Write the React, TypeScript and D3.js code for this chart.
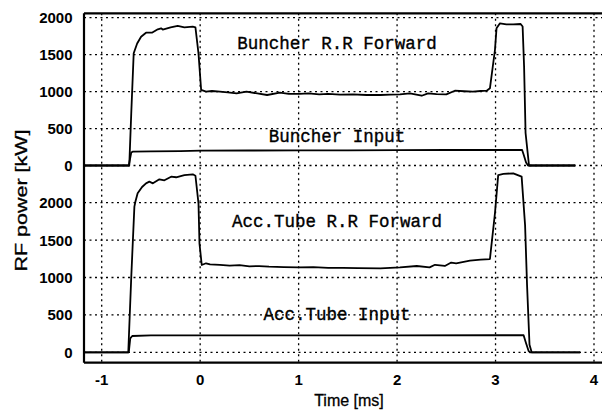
import * as d3 from 'd3';

// tiempo en ms y potencia en kW
const bunFwdT = [-1.18, -0.72, -0.70, -0.675, -0.64, -0.60, -0.55, -0.49, -0.43, -0.397, -0.38, -0.30, -0.228, -0.16, -0.075, -0.048, -0.017, 0.01, 0.06, 0.12, 0.2, 0.28, 0.37, 0.47, 0.58, 0.68, 0.81, 0.9, 1.01, 1.1, 1.21, 1.3, 1.42, 1.55, 1.69, 1.83, 1.93, 2.03, 2.13, 2.25, 2.315, 2.4, 2.5, 2.587, 2.68, 2.77, 2.85, 2.91, 2.943, 2.994, 3.01, 3.045, 3.11, 3.18, 3.255, 3.275, 3.29, 3.305, 3.34, 3.81];
const bunFwdP = [0, 0, 700, 1518, 1650, 1743, 1797, 1797, 1843, 1856, 1840, 1870, 1888, 1870, 1880, 1870, 1518, 1022, 1000, 1008, 999, 990, 977, 999, 975, 954, 985, 970, 968, 975, 963, 970, 958, 962, 954, 954, 960, 963, 977, 944, 977, 965, 963, 1012, 1005, 999, 1008, 1012, 1044, 1563, 1856, 1924, 1911, 1911, 1915, 1880, 1337, 440, 0, 0];

const bunInT = [-1.18, -0.725, -0.70, -0.686, -0.5, -0.2, 0, 0.5, 1, 1.5, 2, 2.5, 3, 3.27, 3.285, 3.31, 3.33, 3.81];
const bunInP = [0, 0, 175, 187, 190, 195, 200, 203, 205, 206, 208, 210, 210, 210, 150, 40, 0, 0];

const accFwdT = [-1.18, -0.73, -0.70, -0.668, -0.658, -0.635, -0.59, -0.55, -0.516, -0.48, -0.414, -0.363, -0.295, -0.244, -0.16, -0.075, -0.048, -0.017, -0.007, 0.016, 0.06, 0.1, 0.2, 0.3, 0.4, 0.5, 0.6, 0.7, 0.85, 1.0, 1.15, 1.3, 1.45, 1.6, 1.83, 2.03, 2.2, 2.33, 2.385, 2.485, 2.55, 2.6, 2.74, 2.85, 2.943, 2.994, 3.027, 3.08, 3.18, 3.265, 3.30, 3.32, 3.345, 3.367, 3.86];
const accFwdP = [0, 0, 1000, 1947, 2013, 2126, 2210, 2259, 2281, 2259, 2313, 2300, 2348, 2340, 2370, 2380, 2360, 1992, 1457, 1167, 1190, 1175, 1170, 1160, 1165, 1150, 1152, 1145, 1140, 1135, 1138, 1130, 1128, 1125, 1123, 1136, 1154, 1136, 1170, 1154, 1200, 1190, 1225, 1238, 1247, 1858, 2370, 2384, 2393, 2348, 1700, 900, 100, 0, 0];

const accInT = [-1.18, -0.725, -0.71, -0.69, -0.5, 0, 1, 2, 3, 3.285, 3.31, 3.335, 3.35, 3.86];
const accInP = [0, 0, 187, 218, 225, 227, 227, 227, 228, 228, 120, 20, 0, 0];

const xTicks = [-1, 0, 1, 2, 3, 4];
const yTicks = [0, 500, 1000, 1500, 2000];

const W = 602;
const H = 411;
const frame = { left: 84, top: 13.3, bottom: 362.7, right: 604 };

const x = d3.scaleLinear().domain([-1, 4]).range([101.7, 594]);
const yTop = d3.scaleLinear().domain([0, 2000]).range([165.5, 17.7]);
const yBot = d3.scaleLinear().domain([0, 2000]).range([352.3, 202.7]);

const pairs = (t: number[], p: number[]) => t.map((v, i) => [v, p[i]] as [number, number]);

const sansBold = '"Liberation Sans", Arial, Helvetica, sans-serif';
const mono = '"Liberation Mono", "Courier New", monospace';

export default function App() {
  const lineTop = d3.line<[number, number]>().x(d => x(d[0])).y(d => yTop(d[1]));
  const lineBot = d3.line<[number, number]>().x(d => x(d[0])).y(d => yBot(d[1]));

  const traces = [
    lineTop(pairs(bunFwdT, bunFwdP)),
    lineTop(pairs(bunInT, bunInP)),
    lineBot(pairs(accFwdT, accFwdP)),
    lineBot(pairs(accInT, accInP)),
  ];

  // etiquetas de las curvas, en coordenadas de datos
  const notes = [
    { text: 'Buncher R.R Forward', t: 1.39, v: 1572, y: yTop },
    { text: 'Buncher Input', t: 1.39, v: 322, y: yTop },
    { text: 'Acc.Tube R.R Forward', t: 1.39, v: 1679, y: yBot },
    { text: 'Acc.Tube Input', t: 1.39, v: 432, y: yBot },
  ];

  return (
    <svg width={W} height={H} style={{ position: 'absolute', left: 0, top: 0, background: '#fff' }}>
      {/* rejilla punteada */}
      <g stroke="#000" strokeWidth={1.3} strokeDasharray="2,3.5">
        {xTicks.map(t => (
          <line key={'vx' + t} x1={x(t)} x2={x(t)} y1={frame.top} y2={frame.bottom} />
        ))}
        {[yTop, yBot].map((y, k) =>
          yTicks.map(v => (
            <line key={'h' + k + v} x1={frame.left} x2={frame.right} y1={y(v)} y2={y(v)} />
          ))
        )}
      </g>

      {/* marco */}
      <g stroke="#000" strokeWidth={2.2} fill="none">
        <line x1={frame.left} x2={frame.right} y1={frame.top} y2={frame.top} />
        <line x1={frame.left} x2={frame.right} y1={frame.bottom} y2={frame.bottom} />
        <line x1={frame.left} x2={frame.left} y1={frame.top} y2={frame.bottom} />
      </g>

      {/* curvas */}
      <g stroke="#000" strokeWidth={1.8} fill="none" strokeLinejoin="round">
        {traces.map((d, i) => <path key={i} d={d || ''} />)}
      </g>

      {notes.map(n => (
        <text key={n.text} x={x(n.t)} y={n.y(n.v)} textAnchor="middle" fontFamily={mono} fontSize={17.5}
          fill="#000" stroke="#000" strokeWidth={0.35}>
          {n.text}
        </text>
      ))}

      {/* ticks eje y */}
      <g fontFamily={sansBold} fontWeight="bold" fontSize={15} fill="#000" textAnchor="end">
        {[yTop, yBot].map((y, k) =>
          yTicks.map(v => (
            <text key={'yl' + k + v} x={72.5} y={y(v)} dy="0.36em">{v}</text>
          ))
        )}
      </g>

      {/* ticks eje x */}
      <g fontFamily={sansBold} fontWeight="bold" fontSize={15} fill="#000" textAnchor="middle">
        {xTicks.map(t => (
          <text key={'xl' + t} x={x(t)} y={385}>{t}</text>
        ))}
      </g>

      <text x={349} y={406} textAnchor="middle" fontFamily={sansBold} fontSize={16} fill="#000"
        stroke="#000" strokeWidth={0.3}>Time [ms]</text>
      <text transform="translate(27,200.5) rotate(-90)" textAnchor="middle" fontFamily={sansBold} fontSize={16}
        textLength={142} lengthAdjust="spacingAndGlyphs" fill="#000" stroke="#000" strokeWidth={0.3}>RF power [kW]</text>
    </svg>
  );
}
